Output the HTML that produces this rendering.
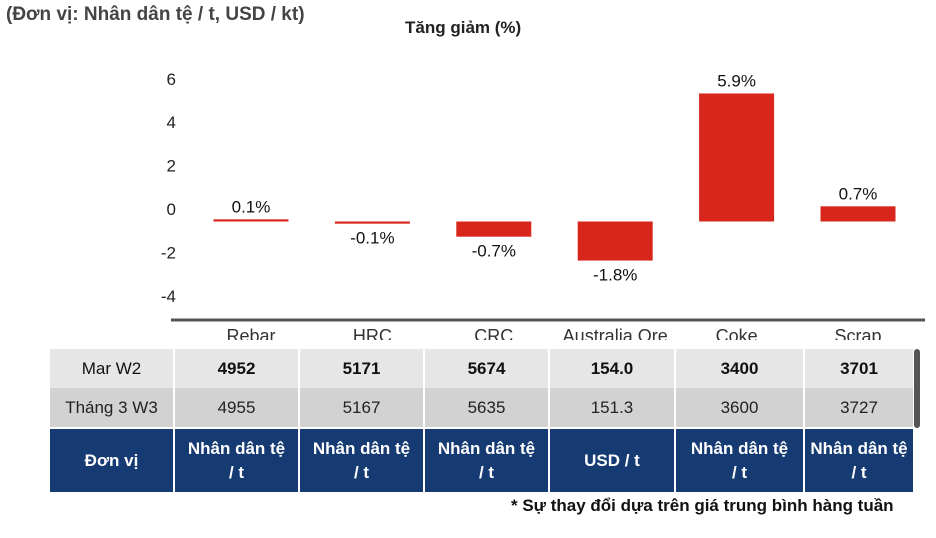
<!DOCTYPE html>
<html><head><meta charset="utf-8"><style>
body{margin:0;width:936px;height:538px;background:#fff;font-family:"Liberation Sans",Arial,sans-serif;position:relative;overflow:hidden}
.t{position:absolute;white-space:nowrap}
table{position:absolute;left:50px;top:349px;border-collapse:collapse;font-size:17px}
td{text-align:center;padding:0;border-right:2px solid #fff}
</style></head><body>
<div class="t" style="left:6px;top:4px;font-size:19px;font-weight:bold;color:#444">(Đơn vị: Nhân dân tệ / t, USD / kt)</div>
<div class="t" style="left:405px;top:18px;font-size:17px;font-weight:bold;color:#222">Tăng giảm (%)</div>
<svg id="chart" width="936" height="340" style="position:absolute;left:0;top:0"></svg>
<table>
<tr style="background:#e6e6e6;height:39px;font-weight:bold;color:#111"><td style="width:123px;font-weight:normal">Mar W2</td><td style="width:123px">4952</td><td style="width:123px">5171</td><td style="width:123px">5674</td><td style="width:124px">154.0</td><td style="width:127px">3400</td><td style="width:108px">3701</td></tr>
<tr style="background:#d2d2d2;height:40px;color:#222"><td>Tháng 3 W3</td><td>4955</td><td>5167</td><td>5635</td><td>151.3</td><td>3600</td><td>3727</td></tr>
<tr style="background:#163a72;height:64px;color:#fff;font-weight:bold;line-height:24px;border-top:2px solid #fff"><td>Đơn vị</td><td>Nhân dân tệ<br>/ t</td><td>Nhân dân tệ<br>/ t</td><td>Nhân dân tệ<br>/ t</td><td>USD / t</td><td>Nhân dân tệ<br>/ t</td><td>Nhân dân tệ<br>/ t</td></tr>
</table>
<div style="position:absolute;left:914px;top:349px;width:6px;height:79px;background:#555;border-radius:3px"></div>
<div class="t" style="left:511px;top:496px;font-size:17px;font-weight:bold;color:#111">* Sự thay đổi dựa trên giá trung bình hàng tuần</div>
<script>
const categories=["Rebar","HRC","CRC","Australia Ore","Coke","Scrap"];
const changes=[0.1,-0.1,-0.7,-1.8,5.9,0.7];
const labels=["0.1%","-0.1%","-0.7%","-1.8%","5.9%","0.7%"];
const ticks=[6,4,2,0,-2,-4];
const svg=document.getElementById('chart');
const NS='http://www.w3.org/2000/svg';
const unit=21.7, zeroTick=209, base=221.5;
const yTick=v=>zeroTick-v*unit;
const xC=i=>251+i*121.4;
function mk(tag,attrs,txt){const e=document.createElementNS(NS,tag);for(const k in attrs)e.setAttribute(k,attrs[k]);if(txt!==undefined)e.textContent=txt;svg.appendChild(e);return e;}
ticks.forEach(t=>{
 const e=mk('text',{x:176,y:yTick(t)+6,'text-anchor':'end','font-size':17,fill:'#222'},String(t));
 
 
});
const ax=mk('line',{x1:171,x2:925,y1:320,y2:320,stroke:'#555','stroke-width':3});


categories.forEach((c,i)=>{
 const v=changes[i];
 const h=Math.max(Math.abs(v)*unit,2);
 const top=v>=0?base-h:base;
 const r=mk('rect',{x:xC(i)-37.5,y:top,width:75,height:h,fill:'#d9261c'});
 
 
 const ly=v>=0?top-7:top+h+20;
 const l=mk('text',{x:xC(i),y:ly,'text-anchor':'middle','font-size':17,fill:'#111'},labels[i]);
 
 
 const cl=mk('text',{x:xC(i),y:342,'text-anchor':'middle','font-size':18,fill:'#333'},c);
 
 
});
</script>
</body></html>
